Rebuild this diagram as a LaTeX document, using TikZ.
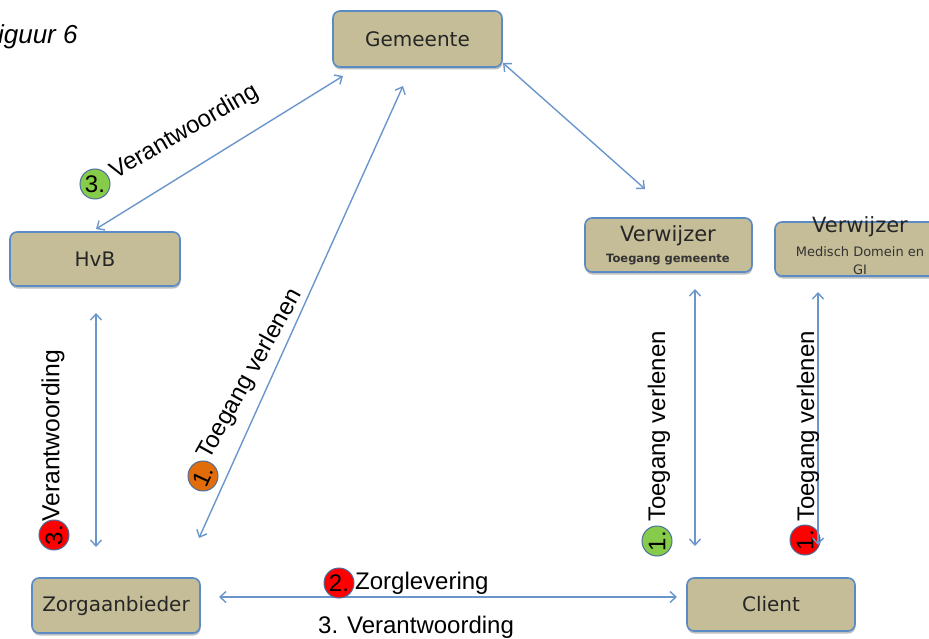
\documentclass[tikz,border=0pt]{standalone}
\usepackage{fontspec}
\setmainfont{Liberation Sans}
\newfontfamily\boxfont{DejaVu Sans}
\usetikzlibrary{arrows.meta,shadows}
\definecolor{boxfill}{HTML}{C4BD97}
\definecolor{boxline}{HTML}{5B8BC4}
\definecolor{arrowblue}{HTML}{6A96CB}
\definecolor{numgreen}{HTML}{86CB4A}
\definecolor{numorange}{HTML}{E36C0A}
\tikzset{
  x=1pt,y=-1pt,
  rbox/.style={draw=boxline,line width=1.6pt,fill=boxfill,rounded corners=7pt,
    inner sep=0pt,font=\boxfont\fontsize{20}{22}\selectfont,text=black!85,align=center,
    drop shadow={shadow xshift=0.5pt,shadow yshift=-2.5pt,fill=black,opacity=0.25}},
  link/.style={draw=arrowblue,line width=1.4pt,{Straight Barb[length=6pt,width=11pt]}-{Straight Barb[length=6pt,width=11pt]}},
  lab/.style={inner sep=0pt,font=\fontsize{24}{26}\selectfont,text=black},
  num/.style={circle,minimum size=30pt,inner sep=0pt,draw=boxline!80!black,line width=1pt,
    font=\fontsize{24}{26}\selectfont,text=black},
  subtext/.style={inner sep=0pt,font=\boxfont\fontsize{13}{15}\selectfont,text=black!80},
  headtext/.style={inner sep=0pt,font=\boxfont\fontsize{21}{23}\selectfont,text=black!85},
}
\begin{document}
\begin{tikzpicture}
\useasboundingbox (0,0) rectangle (929,639);
% boxes
\node[rbox,minimum width=169pt,minimum height=56pt] (gem) at (417.5,39) {Gemeente};
\node[rbox,minimum width=167pt,minimum height=54pt] (v1) at (668.5,245) {};
\node[rbox,minimum width=170pt,minimum height=54pt] (v2) at (860,249) {};
\node[rbox,minimum width=170pt,minimum height=54pt] (hvb) at (95,259) {HvB};
\node[rbox,minimum width=168pt,minimum height=55pt] (zorg) at (116,605.5) {Zorgaanbieder};
\node[rbox,minimum width=168pt,minimum height=53pt] (cl) at (771,604.5) {Client};
% box texts
\node[headtext] (v1a) at (668,236) {Verwijzer};
\node[subtext,font=\boxfont\fontsize{11.5}{14}\selectfont\bfseries] (v1b) at (668,260) {Toegang gemeente};
\node[headtext] (v2a) at (860,227) {Verwijzer};
\node[subtext] (v2b) at (860,252) {Medisch Domein en};
\node[subtext] (v2c) at (860,270) {GI};
% connector ends
\coordinate (a1) at (343,76);  \coordinate (a2) at (96,229);
\coordinate (b1) at (403,86);  \coordinate (b2) at (199,538);
\coordinate (c1) at (503,63);  \coordinate (c2) at (645,189);
\coordinate (d1) at (96,313);  \coordinate (d2) at (96,547);
\coordinate (e1) at (695,289); \coordinate (e2) at (695,546);
\coordinate (f1) at (818,292); \coordinate (f2) at (818,545);
\coordinate (g1) at (219,597); \coordinate (g2) at (677,597);
\draw[link] (a1) -- (a2);
\draw[link] (b1) -- (b2);
\draw[link] (c1) -- (c2);
\draw[link] (d1) -- (d2);
\draw[link] (e1) -- (e2);
\draw[link] (g1) -- (g2);
% number badges
\node[num,fill=numgreen] (n1) at (95,184) {3.};
\node[num,fill=numorange,rotate=65] (n2) at (203,476) {1.};
\node[num,fill=red,rotate=90] (n3) at (54,535) {3.};
\node[num,fill=numgreen,rotate=90] (n4) at (657,541) {1.};
\node[num,fill=red,rotate=90] (n5) at (805,540) {1.};
\node[num,fill=red] (n6) at (339,583) {2.};
\draw[link] (f1) -- (f2);
% labels
\node[lab,rotate=30,anchor=west] (l1) at (112,174) {Verantwoording};
\node[lab,rotate=61,anchor=west] (l2) at (204,458) {Toegang verlenen};
\node[lab,rotate=90,anchor=west] (l3) at (53,522) {\fontsize{24.7}{26}\selectfont Verantwoording};
\node[lab,rotate=90,anchor=west] (l4) at (659,522) {Toegang verlenen};
\node[lab,rotate=90,anchor=west] (l5) at (808,522) {Toegang verlenen};
\node[lab,anchor=west] (l6) at (355,583) {Zorglevering};
\node[lab,anchor=west] (l7) at (318,627) {3. Verantwoording};
\node[inner sep=0pt,anchor=west,font=\fontsize{26}{28}\selectfont\itshape] (fig) at (-18,37) {Figuur 6};
\end{tikzpicture}
\end{document}
